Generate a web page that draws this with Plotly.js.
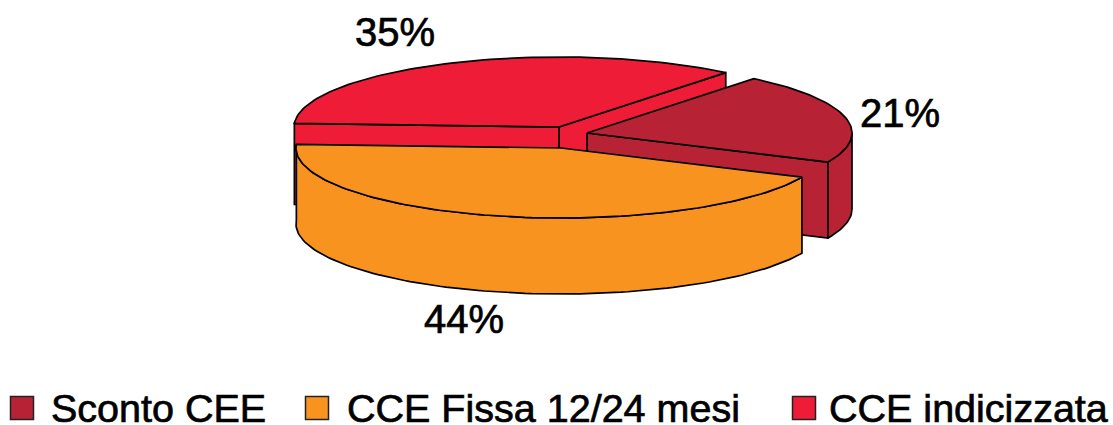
<!DOCTYPE html>
<html>
<head>
<meta charset="utf-8">
<script src="https://cdn.plot.ly/plotly-3.0.1.min.js"></script>
<style>
html,body{margin:0;padding:0;background:#fff}
/* medium text weight */
.annotation-text{stroke:#000;stroke-width:0.7px}
</style>
</head>
<body>
<div id="chart" style="width:1113px;height:425px"></div>
<script>
(function () {
// Share of each contract type, in percent
const categories = ["Sconto CEE", "CCE Fissa 12/24 mesi", "CCE indicizzata"];
const shares = [21, 44, 35];
const colors = ["#B72234", "#F8931F", "#EE1C37"];

// Drawing geometry of the tilted, exploded pie (axis units equal pixels)
const startAngle = 51;
const radiusX = 265;
const radiusY = 70;
const sliceDepths = [76, 76, 81];
const sliceCentres = [[587, 133], [561, 148], [559, 127]];
const labelSpots = [[900, 113], [464, 319], [395, 32]];
const legendSwatchX = [22, 317, 804];
const legendTextX = [49, 345, 827];
const legendY = 408;
const fontFamily = "'Liberation Sans', Arial, sans-serif";

// Slices run clockwise from startAngle
const ranges = [];
let cursor = startAngle;
shares.forEach(v => {
  const sweep = v / shares.reduce((a, b) => a + b, 0) * 360;
  ranges.push([cursor, cursor - sweep]);
  cursor -= sweep;
});

const pt = (i, deg, drop) => {
  const r = deg * Math.PI / 180;
  return [sliceCentres[i][0] + radiusX * Math.cos(r),
          sliceCentres[i][1] - radiusY * Math.sin(r) + (drop || 0)];
};
const arc = (i, from, to, drop) => {
  const n = Math.max(2, Math.ceil(Math.abs(to - from) / 1.5));
  const out = [];
  for (let k = 0; k <= n; k++) out.push(pt(i, from + (to - from) * k / n, drop));
  return out;
};

const traces = [];
const poly = (pts, color) => {
  const closed = pts.concat([pts[0]]);
  traces.push({
    type: "scatter", mode: "lines", fill: "toself", fillcolor: color,
    x: closed.map(p => p[0]), y: closed.map(p => p[1]),
    line: {color: "#000", width: 1.7, shape: "linear"},
    hoverinfo: "skip", showlegend: false
  });
};
const apex = (i, drop) => [sliceCentres[i][0], sliceCentres[i][1] + (drop || 0)];
// Flat cut face between the centre and the rim at a given angle
const cutFace = (i, deg) => poly([apex(i), pt(i, deg), pt(i, deg, sliceDepths[i]), apex(i, sliceDepths[i])], colors[i]);
// Curved outer wall between two angles
const wall = (i, from, to) => poly(arc(i, from, to).concat(arc(i, to, from, sliceDepths[i])), colors[i]);
const topFace = i => poly([apex(i)].concat(arc(i, ranges[i][0], ranges[i][1])), colors[i]);

// Painted back to front: indexed slice, discount slice, fixed-rate slice
cutFace(2, ranges[2][1]);
cutFace(2, ranges[2][0]);
topFace(2);

cutFace(0, ranges[0][1]);
wall(0, ranges[0][1], 0);
topFace(0);

wall(1, ranges[1][0], ranges[1][1]);
topFace(1);

// Legend swatches
traces.push({
  type: "scatter", mode: "markers",
  x: legendSwatchX, y: categories.map(() => legendY),
  marker: {symbol: "square", size: 23, color: colors, line: {color: "#222", width: 1.5}},
  hoverinfo: "skip", showlegend: false
});

const annotations = [];
shares.forEach((v, i) => annotations.push({
  x: labelSpots[i][0], y: labelSpots[i][1], xref: "x", yref: "y",
  text: v + "%", showarrow: false, xanchor: "center", yanchor: "middle",
  font: {family: fontFamily, size: 40, color: "#000"}
}));
categories.forEach((c, i) => annotations.push({
  x: legendTextX[i], y: legendY, xref: "x", yref: "y",
  text: c, showarrow: false, xanchor: "left", yanchor: "middle",
  font: {family: fontFamily, size: 39.5, color: "#000"}
}));

Plotly.newPlot("chart", traces, {
  width: 1113, height: 425, autosize: false,
  margin: {l: 0, r: 0, t: 0, b: 0},
  paper_bgcolor: "#fff", plot_bgcolor: "#fff",
  xaxis: {range: [0, 1113], visible: false, fixedrange: true},
  yaxis: {range: [425, 0], visible: false, fixedrange: true},
  showlegend: false,
  annotations: annotations
}, {displayModeBar: false, staticPlot: true});
})();
</script>
</body>
</html>
